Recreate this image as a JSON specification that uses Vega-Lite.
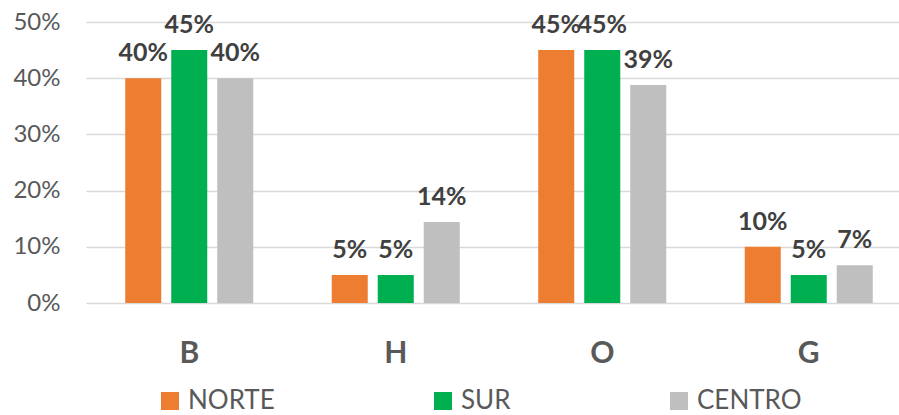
{
  "$schema": "https://vega.github.io/schema/vega-lite/v6.json",
  "width": 813,
  "height": 281,
  "autosize": {"type": "none"},
  "padding": {"left": 86, "top": 22, "right": 0, "bottom": 112},
  "background": "white",
  "config": {
    "font": "Lato",
    "view": {"stroke": null}
  },
  "data": {
    "values": [
      {"cat": "B", "region": "NORTE", "value": 0.40},
      {"cat": "B", "region": "SUR", "value": 0.45},
      {"cat": "B", "region": "CENTRO", "value": 0.40},
      {"cat": "H", "region": "NORTE", "value": 0.05},
      {"cat": "H", "region": "SUR", "value": 0.05},
      {"cat": "H", "region": "CENTRO", "value": 0.144},
      {"cat": "O", "region": "NORTE", "value": 0.45},
      {"cat": "O", "region": "SUR", "value": 0.45},
      {"cat": "O", "region": "CENTRO", "value": 0.388},
      {"cat": "G", "region": "NORTE", "value": 0.10},
      {"cat": "G", "region": "SUR", "value": 0.05},
      {"cat": "G", "region": "CENTRO", "value": 0.067}
    ]
  },
  "encoding": {
    "x": {
      "field": "cat", "type": "nominal", "sort": ["B", "H", "O", "G"],
      "scale": {"range": [0, 826], "paddingInner": 0.38, "paddingOuter": 0.19},
      "axis": {
        "title": null, "labelAngle": 0, "ticks": false, "domain": false,
        "labelFont": "Lato", "labelFontSize": 30, "labelFontWeight": "bold",
        "labelColor": "#595959", "labelPadding": 35
      }
    },
    "xOffset": {
      "field": "region", "type": "nominal", "sort": ["NORTE", "SUR", "CENTRO"],
      "scale": {"paddingInner": 0.217, "paddingOuter": 0}
    },
    "y": {
      "field": "value", "type": "quantitative",
      "scale": {"domain": [0, 0.5], "nice": false},
      "axis": {
        "title": null, "format": ".0%", "values": [0, 0.1, 0.2, 0.3, 0.4, 0.5],
        "ticks": false, "domain": false, "gridColor": "#D9D9D9", "gridWidth": 1.5,
        "labelFont": "Lato", "labelFontSize": 24, "labelColor": "#595959", "labelPadding": 26
      }
    }
  },
  "layer": [
    {
      "mark": {"type": "bar"},
      "encoding": {
        "color": {
          "field": "region", "type": "nominal", "sort": ["NORTE", "SUR", "CENTRO"],
          "scale": {"domain": ["NORTE", "SUR", "CENTRO"], "range": ["#ED7D31", "#00B050", "#BFBFBF"]},
          "legend": {
            "title": null, "orient": "none", "direction": "horizontal",
            "legendX": 71, "legendY": 366,
            "symbolType": "square", "symbolSize": 324, "symbolStrokeWidth": 0,
            "labelFont": "Lato", "labelFontSize": 26, "labelColor": "#595959",
            "labelOffset": 5, "columnPadding": 155
          }
        }
      }
    },
    {
      "mark": {"type": "text", "baseline": "bottom", "dy": -12, "font": "Lato", "fontSize": 25, "fontWeight": "bold", "color": "#404040"},
      "encoding": {
        "text": {"field": "value", "type": "quantitative", "format": ".0%"}
      }
    }
  ]
}
